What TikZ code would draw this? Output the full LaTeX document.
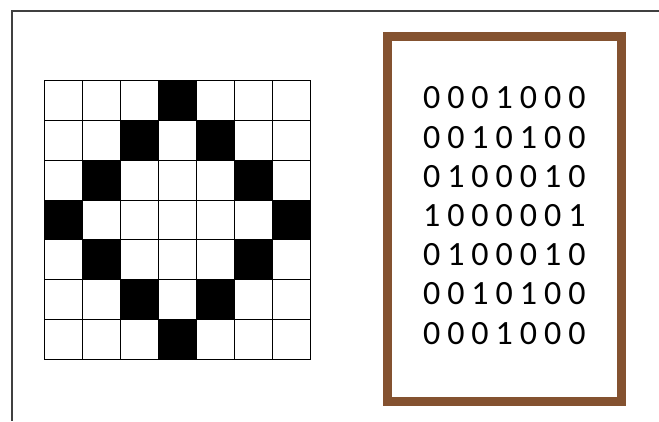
\documentclass[tikz,border=0pt]{standalone}
\usepackage{fontspec}
\newfontfamily\digitfont{Carlito}
\definecolor{woodbrown}{RGB}{132,82,48}
\begin{document}
\begin{tikzpicture}[x=1pt, y=-1pt,
  bit/.style={font=\digitfont\fontsize{34}{34}\selectfont, inner sep=0pt, anchor=center},
  gridline/.style={line width=1pt, black}]
\def\cw{38.14}
\def\ch{39.8}
\useasboundingbox (0,0) rectangle (659,421);
% page edge
\draw[line width=1.2pt, black!75] (659,11) -- (12,11) -- (12,421);
% pixel pattern and its binary matrix
\foreach \row [count=\r from 0] in {{0,0,0,1,0,0,0},{0,0,1,0,1,0,0},{0,1,0,0,0,1,0},{1,0,0,0,0,0,1},{0,1,0,0,0,1,0},{0,0,1,0,1,0,0},{0,0,0,1,0,0,0}} {
  \foreach \v [count=\c from 0] in \row {
    \ifnum\v=1 \fill (44+\c*\cw,80.7+\r*\ch) rectangle ++(\cw,\ch); \fi
    \node[bit] (b-\r-\c) at (431.7+\c*24.2,98+\r*39.2) {\v};
  }
}
\foreach \i in {0,...,7} {
  \draw[gridline] (44+\i*\cw,80.7) -- (44+\i*\cw,359.3);
  \draw[gridline] (44,80.7+\i*\ch) -- (311,80.7+\i*\ch);
}
% frame round the matrix
\draw[woodbrown, line width=8.5pt] (387.3,36.5) rectangle (621.7,401.7);
\end{tikzpicture}
\end{document}
